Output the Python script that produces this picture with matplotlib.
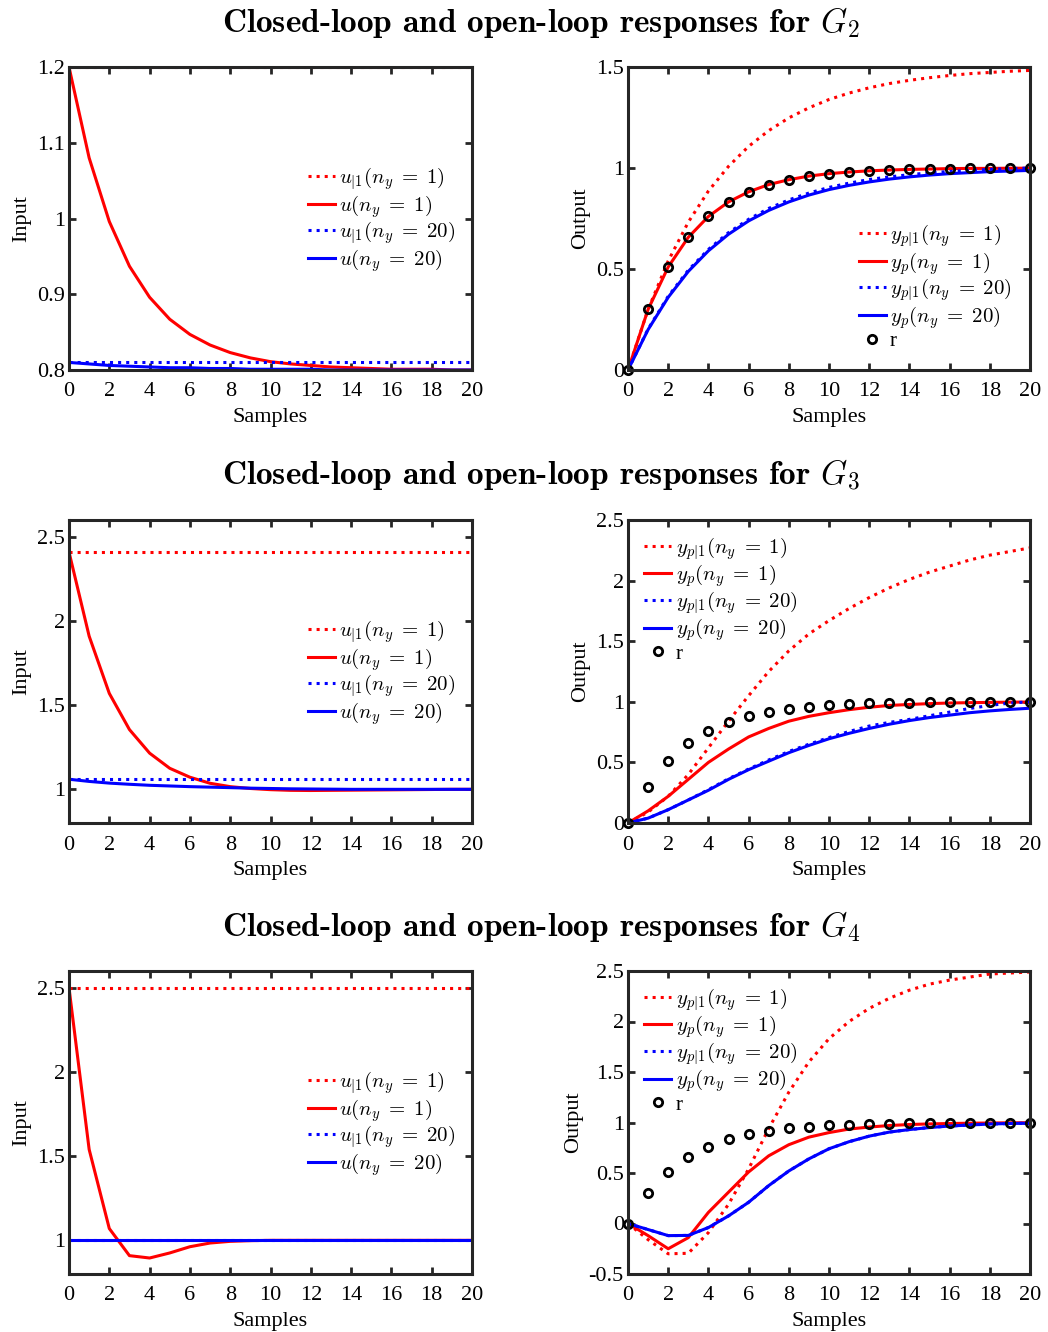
import matplotlib
matplotlib.use('Agg')
import matplotlib.pyplot as plt
from matplotlib.ticker import FuncFormatter

plt.rcParams['mathtext.fontset'] = 'cm'
plt.rcParams['font.family'] = 'Liberation Serif'
plt.rcParams['axes.unicode_minus'] = False

# samples
k = list(range(21))

# reference (same for all plants)
r_ref = [0, 0.3, 0.51, 0.657, 0.76, 0.832, 0.882, 0.918, 0.942, 0.96, 0.972,
         0.98, 0.986, 0.99, 0.993, 0.995, 0.997, 0.998, 0.998, 0.999, 0.999]

# G2
g2_u1_n1 = [1.2] * 21
g2_u_n1 = [1.2, 1.08, 0.996, 0.937, 0.896, 0.867, 0.847, 0.833, 0.823, 0.816, 0.811,
           0.808, 0.806, 0.804, 0.803, 0.802, 0.801, 0.801, 0.801, 0.8, 0.8]
g2_u1_n20 = [0.81] * 21
g2_u_n20 = [0.81, 0.808, 0.806, 0.805, 0.804, 0.803, 0.803, 0.802, 0.802, 0.801, 0.801,
            0.801, 0.801, 0.8, 0.8, 0.8, 0.8, 0.8, 0.8, 0.8, 0.8]
g2_y1_n1 = [0, 0.3, 0.54, 0.732, 0.886, 1.008, 1.107, 1.185, 1.248, 1.298, 1.339,
            1.371, 1.397, 1.418, 1.434, 1.447, 1.458, 1.467, 1.473, 1.479, 1.483]
g2_y_n1 = [0, 0.3, 0.51, 0.657, 0.76, 0.832, 0.882, 0.918, 0.942, 0.96, 0.972,
           0.98, 0.986, 0.99, 0.993, 0.995, 0.997, 0.998, 0.998, 0.999, 0.999]
g2_y1_n20 = [0, 0.203, 0.365, 0.494, 0.597, 0.68, 0.746, 0.8, 0.842, 0.876, 0.904,
             0.925, 0.943, 0.956, 0.967, 0.976, 0.983, 0.988, 0.993, 0.997, 1.0]
g2_y_n20 = [0, 0.2, 0.36, 0.488, 0.59, 0.672, 0.738, 0.79, 0.832, 0.866, 0.893,
            0.914, 0.931, 0.945, 0.956, 0.965, 0.972, 0.977, 0.982, 0.985, 0.988]

# G3
g3_u1_n1 = [2.41] * 21
g3_u_n1 = [2.41, 1.91, 1.57, 1.355, 1.215, 1.125, 1.072, 1.036, 1.016, 1.005, 0.998,
           0.994, 0.993, 0.994, 0.995, 0.996, 0.997, 0.998, 0.999, 1.0, 1.0]
g3_u1_n20 = [1.06] * 21
g3_u_n20 = [1.06, 1.047, 1.037, 1.03, 1.024, 1.02, 1.016, 1.013, 1.01, 1.007, 1.005,
            1.003, 1.002, 1.001, 1.0, 1.0, 1.0, 1.0, 1.0, 1.0, 1.0]
g3_y1_n1 = [0, 0.09, 0.22, 0.4, 0.62, 0.84, 1.05, 1.25, 1.42, 1.56, 1.67,
            1.77, 1.86, 1.94, 2.01, 2.07, 2.12, 2.17, 2.21, 2.24, 2.27]
g3_y_n1 = [0, 0.1, 0.22, 0.36, 0.5, 0.61, 0.71, 0.78, 0.84, 0.88, 0.91,
           0.935, 0.955, 0.97, 0.978, 0.985, 0.99, 0.993, 0.995, 0.997, 0.998]
g3_y1_n20 = [0, 0.04, 0.11, 0.19, 0.275, 0.365, 0.445, 0.52, 0.59, 0.65, 0.705,
             0.755, 0.8, 0.83, 0.855, 0.885, 0.915, 0.945, 0.97, 0.99, 1.0]
g3_y_n20 = [0, 0.04, 0.11, 0.19, 0.27, 0.36, 0.44, 0.51, 0.58, 0.64, 0.695,
            0.74, 0.78, 0.815, 0.845, 0.87, 0.89, 0.91, 0.925, 0.937, 0.947]

# G4
g4_u1_n1 = [2.5] * 21
g4_u_n1 = [2.5, 1.54, 1.07, 0.909, 0.895, 0.925, 0.962, 0.984, 0.994, 0.998, 1.0,
           1.0, 1.0, 1.0, 1.0, 1.0, 1.0, 1.0, 1.0, 1.0, 1.0]
g4_u1_n20 = [1.0] * 21
g4_u_n20 = [1.0] * 21
g4_y1_n1 = [0, -0.16, -0.3, -0.295, -0.09, 0.19, 0.54, 0.94, 1.3, 1.6, 1.83,
            2.0, 2.13, 2.23, 2.31, 2.37, 2.41, 2.44, 2.47, 2.48, 2.49]
g4_y_n1 = [0, -0.12, -0.25, -0.14, 0.11, 0.31, 0.51, 0.67, 0.78, 0.855, 0.9,
           0.935, 0.955, 0.97, 0.98, 0.986, 0.99, 0.993, 0.995, 0.997, 0.998]
g4_y1_n20 = [0, -0.06, -0.12, -0.118, -0.04, 0.075, 0.21, 0.375, 0.52, 0.64, 0.74,
             0.81, 0.865, 0.905, 0.93, 0.95, 0.965, 0.975, 0.985, 0.99, 0.993]
g4_y_n20 = [0, -0.06, -0.12, -0.118, -0.04, 0.075, 0.21, 0.375, 0.52, 0.64, 0.74,
            0.81, 0.865, 0.905, 0.93, 0.95, 0.965, 0.975, 0.985, 0.99, 0.993]

rows = [
    ('G_2', [g2_u1_n1, g2_u_n1, g2_u1_n20, g2_u_n20], [g2_y1_n1, g2_y_n1, g2_y1_n20, g2_y_n20],
     (0.8, 1.2), [0.8, 0.9, 1.0, 1.1, 1.2], (0, 1.5), [0, 0.5, 1, 1.5]),
    ('G_3', [g3_u1_n1, g3_u_n1, g3_u1_n20, g3_u_n20], [g3_y1_n1, g3_y_n1, g3_y1_n20, g3_y_n20],
     (0.8, 2.6), [1, 1.5, 2, 2.5], (0, 2.5), [0, 0.5, 1, 1.5, 2, 2.5]),
    ('G_4', [g4_u1_n1, g4_u_n1, g4_u1_n20, g4_u_n20], [g4_y1_n1, g4_y_n1, g4_y1_n20, g4_y_n20],
     (0.8, 2.6), [1, 1.5, 2, 2.5], (-0.5, 2.5), [-0.5, 0, 0.5, 1, 1.5, 2, 2.5]),
]

u_labels = [r'$u_{|1}(n_y\;=\;1)$', r'$u(n_y\;=\;1)$',
            r'$u_{|1}(n_y\;=\;20)$', r'$u(n_y\;=\;20)$']
y_labels = [r'$y_{p|1}(n_y\;=\;1)$', r'$y_p(n_y\;=\;1)$',
            r'$y_{p|1}(n_y\;=\;20)$', r'$y_p(n_y\;=\;20)$']
styles = [('red', ':'), ('red', '-'), ('blue', ':'), ('blue', '-')]

W, H = 1048, 1332
fig = plt.figure(figsize=(W / 100, H / 100), dpi=100)

fmt = FuncFormatter(lambda v, p: '%g' % v)
spine_col = '#262626'


def style_axes(ax, xlab, ylab, ylim, yticks):
    ax.set_xlim(0, 20)
    ax.set_ylim(*ylim)
    ax.set_xticks(range(0, 21, 2))
    ax.set_yticks(yticks)
    ax.xaxis.set_major_formatter(fmt)
    ax.yaxis.set_major_formatter(fmt)
    ax.tick_params(direction='in', top=True, right=True, length=5, width=2,
                   labelsize=16, color=spine_col)
    ax.tick_params(axis='x', pad=9)
    ax.tick_params(axis='y', pad=3)
    for s in ax.spines.values():
        s.set_linewidth(2.2)
        s.set_color(spine_col)
    ax.set_xlabel(xlab, fontsize=16, labelpad=5)
    ax.set_ylabel(ylab, fontsize=16, labelpad=4)


leg_kw = dict(loc='upper left', frameon=False, fontsize=15, handlelength=1.3,
              handletextpad=0.2, labelspacing=0.03, borderaxespad=0)

row_tops = [67, 520, 971]
for i, (g, us, ys, ulim, uticks, ylim, yticks) in enumerate(rows):
    top = row_tops[i]
    fig.text(541 / W, 1 - (top - 45) / H,
             r'Closed-loop and open-loop responses for $%s$' % g,
             fontfamily='cmb10', fontsize=24, ha='center', va='center')

    ax1 = fig.add_axes([69 / W, 1 - (top + 303) / H, 403 / W, 303 / H])
    for data, lab, (c, ls) in zip(us, u_labels, styles):
        ax1.plot(k, data, color=c, linestyle=ls, linewidth=2.2, label=lab)
    style_axes(ax1, 'Samples', 'Input', ulim, uticks)
    ax1.legend(bbox_to_anchor=(0.572, 0.70), **leg_kw)

    ax2 = fig.add_axes([628 / W, 1 - (top + 303) / H, 402 / W, 303 / H])
    for data, lab, (c, ls) in zip(ys, y_labels, styles):
        ax2.plot(k, data, color=c, linestyle=ls, linewidth=2.2, label=lab)
    ax2.plot(k, r_ref, linestyle='none', marker='o', markersize=6,
             markerfacecolor='none', markeredgecolor='black', markeredgewidth=2,
             label='r', clip_on=False)
    style_axes(ax2, 'Samples', 'Output', ylim, yticks)
    if i == 0:
        anchor = (0.553, 0.512)
    else:
        anchor = (0.02, 0.975)
    ax2.legend(bbox_to_anchor=anchor, **leg_kw)

fig.savefig('out.png', dpi=100)
